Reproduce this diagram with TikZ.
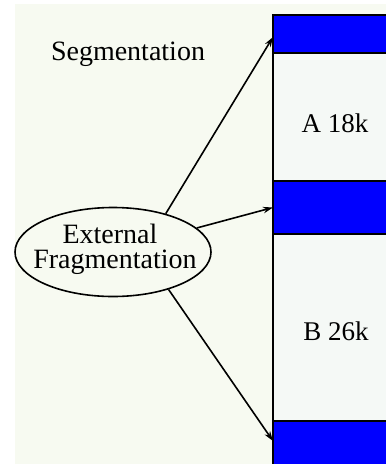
\documentclass[tikz,border=0pt]{standalone}
\usepackage{fontspec}
\setmainfont{Liberation Serif}
\usetikzlibrary{shapes.geometric,arrows.meta}

\definecolor{paper}{RGB}{247,250,241}
\definecolor{cell}{RGB}{245,249,246}
\definecolor{holeblue}{RGB}{0,0,255}

\tikzset{
  memcol/.style={draw=black, line width=2.4pt, fill=cell, rectangle,
    anchor=north west, inner sep=0pt, outer sep=0pt, minimum width=140pt},
  hole/.style={draw=black, line width=2.2pt, fill=holeblue, rectangle,
    anchor=north west, inner sep=0pt, outer sep=0pt, minimum width=140pt},
  label/.style={font=\fontsize{27}{30}\selectfont, anchor=base, inner sep=0pt},
  pointer/.style={line width=1.6pt, -{Stealth[length=10pt,width=6.5pt]}},
}

\begin{document}
\begin{tikzpicture}[x=1pt,y=-1pt]
  \useasboundingbox (0,0) rectangle (386,464);
  \clip (0,0) rectangle (386,464);
  \fill[white] (0,0) rectangle (386,464);
  \fill[paper] (15,4) rectangle (386,464);

  % memory column with its free blocks
  \node[memcol, minimum height=470pt] (mem) at (273,15) {};
  \node[hole, minimum height=38pt] (h1) at (273,15) {};
  \node[hole, minimum height=53pt] (h2) at (273,181) {};
  \node[hole, minimum height=48pt] (h3) at (273,421) {};

  % allocated segments
  \node[label] (segA) at (335,132) {A 18k};
  \node[label] (segB) at (336,340) {B 26k};

  % title
  \node[label, font=\fontsize{28}{30}\selectfont] (title) at (128,60) {Segmentation};

  % fragmentation bubble: outline and its two-line caption
  \node[draw=black, line width=1.6pt, ellipse, minimum width=196pt,
        minimum height=89pt, inner sep=0pt] (frag) at (113,252) {};
  \node[label, font=\fontsize{28}{30}\selectfont] (fragA) at (110,243) {External};
  \node[label, font=\fontsize{28}{30}\selectfont] (fragB) at (115,268) {Fragmentation};

  % pointers to the free blocks
  \draw[pointer] (frag.36) -- ([yshift=-3pt]h1.west);
  \draw[pointer] (frag.16) -- (h2.west);
  \draw[pointer] (frag.-34) -- ([yshift=4pt]h3.west);
\end{tikzpicture}
\end{document}
